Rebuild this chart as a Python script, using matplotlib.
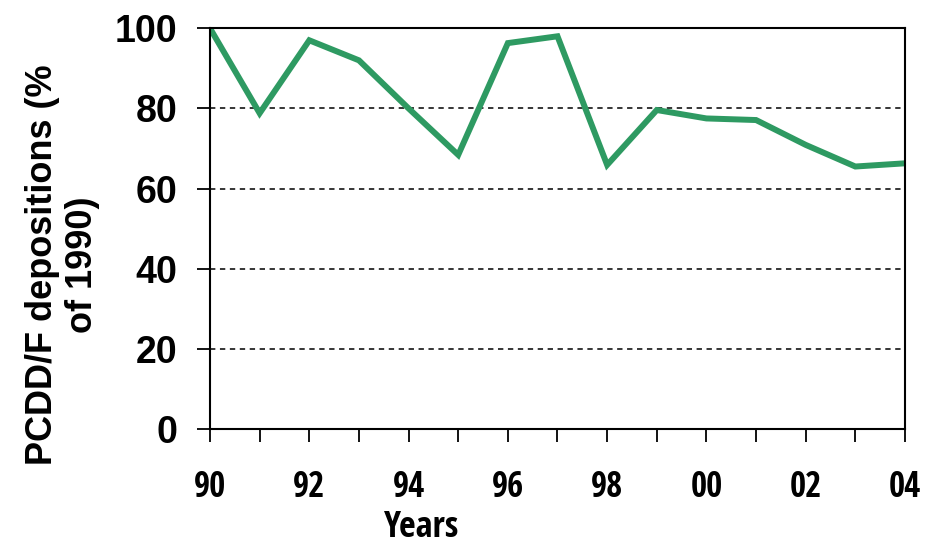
import matplotlib
matplotlib.use('Agg')
import matplotlib.pyplot as plt
from matplotlib.ticker import MultipleLocator

# % of 1990
years = [1990, 1991, 1992, 1993, 1994, 1995, 1996, 1997,
         1998, 1999, 2000, 2001, 2002, 2003, 2004]
depositions = [100, 78.8, 97, 92, 80, 68.4, 96.3, 98,
               65.9, 79.6, 77.5, 77.1, 70.9, 65.5, 66.3]
xtick_years = [1990, 1992, 1994, 1996, 1998, 2000, 2002, 2004]
xtick_labels = ['90', '92', '94', '96', '98', '00', '02', '04']
ytick_values = [0, 20, 40, 60, 80, 100]

narrow = ['Open Sans Condensed', 'DejaVu Sans']
wide = ['Liberation Sans', 'DejaVu Sans']

fig = plt.figure(figsize=(9.28, 5.49), dpi=100)
ax = fig.add_axes([0.2263, 0.2186, 0.7489, 0.7299])

ax.plot(years, depositions, color='#2e9a62', lw=4.3, solid_joinstyle='miter')

ax.set_xlim(1990, 2004)
ax.set_ylim(0, 100)

for v in [20, 40, 60, 80]:
    ax.axhline(v, color='black', lw=1.1, ls=(0, (3.5, 3)), zorder=0)

ax.set_xticks(xtick_years)
ax.set_xticklabels(xtick_labels, fontfamily=narrow, fontweight='bold', fontsize=25)
ax.xaxis.set_minor_locator(MultipleLocator(1))
ax.set_yticks(ytick_values)
ax.set_yticklabels([str(v) for v in ytick_values], fontfamily=wide, fontweight='bold', fontsize=27)

ax.tick_params(axis='x', which='both', direction='out', length=9.5, width=1.3, pad=20)
ax.tick_params(axis='y', direction='out', length=9.5, width=1.3, pad=14)
for s in ax.spines.values():
    s.set_linewidth(1.5)

fig.text(0.0674, 0.517, 'PCDD/F depositions (%\nof 1990)', rotation=90,
         ha='center', va='center', multialignment='center',
         fontfamily=wide, fontweight='bold', fontsize=26, linespacing=1.2)
fig.text(0.454, 0.038, 'Years', ha='center', va='center',
         fontfamily=narrow, fontweight='bold', fontsize=26)

fig.savefig('out.png', dpi=100)
